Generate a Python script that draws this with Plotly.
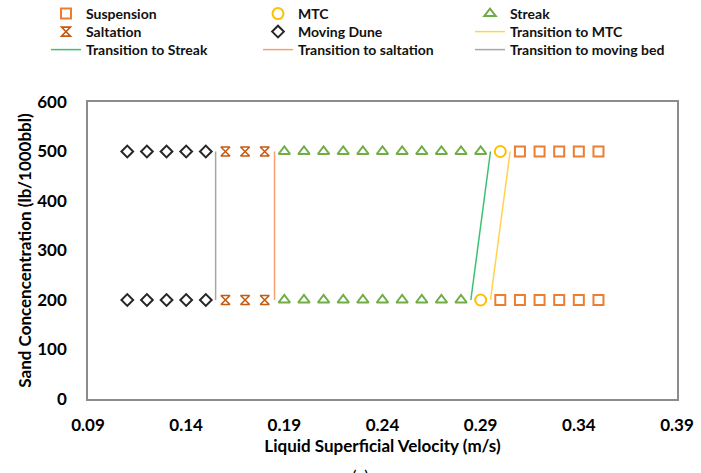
import plotly.graph_objects as go

# ---- data ----
suspension_x = [0.31, 0.32, 0.33, 0.34, 0.35, 0.30, 0.31, 0.32, 0.33, 0.34, 0.35]
suspension_y = [500, 500, 500, 500, 500, 200, 200, 200, 200, 200, 200]

mtc_x = [0.30, 0.29]
mtc_y = [500, 200]

streak_x = [0.19, 0.20, 0.21, 0.22, 0.23, 0.24, 0.25, 0.26, 0.27, 0.28, 0.29,
            0.19, 0.20, 0.21, 0.22, 0.23, 0.24, 0.25, 0.26, 0.27, 0.28]
streak_y = [500] * 11 + [200] * 10

saltation_x = [0.16, 0.17, 0.18, 0.16, 0.17, 0.18]
saltation_y = [500, 500, 500, 200, 200, 200]

dune_x = [0.11, 0.12, 0.13, 0.14, 0.15, 0.11, 0.12, 0.13, 0.14, 0.15]
dune_y = [500, 500, 500, 500, 500, 200, 200, 200, 200, 200]

trans_mtc_x = [0.295, 0.305]
trans_streak_x = [0.285, 0.295]
trans_saltation_x = [0.185, 0.185]
trans_moving_x = [0.155, 0.155]
trans_y = [200, 500]

x_ticks = [0.09, 0.14, 0.19, 0.24, 0.29, 0.34, 0.39]
y_ticks = [0, 100, 200, 300, 400, 500, 600]

FONT = "Lato"
W, H = 701, 473
L, R, T, B = 88, 24, 102, 74
PH = H - T - B  # plot height in px
PW = W - L - R

fig = go.Figure()

fig.add_trace(go.Scatter(x=suspension_x, y=suspension_y, mode="markers", name="Suspension",
                         legend="legend",
                         marker=dict(symbol="square-open", size=10, color="#ED7D31",
                                     line=dict(width=2, color="#ED7D31"))))
fig.add_trace(go.Scatter(x=mtc_x, y=mtc_y, mode="markers", name="MTC", legend="legend",
                         marker=dict(symbol="circle-open", size=11, color="#FFC000",
                                     line=dict(width=2, color="#FFC000"))))
fig.add_trace(go.Scatter(x=streak_x, y=streak_y, mode="markers", name="Streak", legend="legend",
                         marker=dict(symbol="triangle-up-open", size=10, color="#70AD47",
                                     line=dict(width=2, color="#70AD47"))))
fig.add_trace(go.Scatter(x=saltation_x, y=saltation_y, mode="markers", name="Saltation",
                         legend="legend2",
                         marker=dict(symbol="hourglass-open", size=9, color="#C55A11",
                                     line=dict(width=1.6, color="#C55A11"))))
fig.add_trace(go.Scatter(x=dune_x, y=dune_y, mode="markers", name="Moving Dune",
                         legend="legend2",
                         marker=dict(symbol="diamond-open", size=9, color="#262626",
                                     line=dict(width=2, color="#262626"))))
fig.add_trace(go.Scatter(x=trans_mtc_x, y=trans_y, mode="lines", name="Transition to MTC",
                         legend="legend2", line=dict(color="#FFD34D", width=1.5)))
fig.add_trace(go.Scatter(x=trans_streak_x, y=trans_y, mode="lines", name="Transition to Streak",
                         legend="legend3", line=dict(color="#3CC074", width=1.5)))
fig.add_trace(go.Scatter(x=trans_saltation_x, y=trans_y, mode="lines",
                         name="Transition to saltation",
                         legend="legend3", line=dict(color="#F4A070", width=1.5)))
fig.add_trace(go.Scatter(x=trans_moving_x, y=trans_y, mode="lines",
                         name="Transition to moving bed",
                         legend="legend3", line=dict(color="#A6A6A6", width=1.5)))


def legend_row(center_px):
    return dict(orientation="h", xref="paper", yref="paper",
                x=(46 - L) / PW, xanchor="left",
                y=(H - B - center_px) / PH, yanchor="middle",
                entrywidth=167, entrywidthmode="pixels",
                font=dict(family=FONT, size=14, color="#111111", weight="bold"),
                bgcolor="rgba(0,0,0,0)", traceorder="normal")


fig.update_layout(
    width=W, height=H,
    margin=dict(l=L, r=R, t=T, b=B, autoexpand=False),
    paper_bgcolor="white", plot_bgcolor="white",
    font=dict(family=FONT, color="#000000"),
    showlegend=True,
    legend=legend_row(14),
    legend2=legend_row(32),
    legend3=legend_row(50),
    xaxis=dict(range=[0.09, 0.39], tickvals=x_ticks, ticktext=[f"{v:.2f}" for v in x_ticks],
               showgrid=False, zeroline=False, showline=True, mirror=True,
               linecolor="#8C8C8C", linewidth=1.5, ticks="", ticklabelstandoff=10,
               tickfont=dict(family=FONT, size=17, weight="bold"),
               title=dict(text="Liquid Superficial Velocity (m/s)", standoff=3,
                          font=dict(family=FONT, size=17, weight="bold"))),
    yaxis=dict(range=[0, 600], tickvals=y_ticks,
               showgrid=False, zeroline=False, showline=True, mirror=True,
               linecolor="#8C8C8C", linewidth=1.5, ticks="", ticklabelstandoff=16,
               tickfont=dict(family=FONT, size=17, weight="bold"),
               title=dict(text="Sand Concencentration (lb/1000bbl)", standoff=1,
                          font=dict(family=FONT, size=17, weight="bold"))),
)

fig.add_annotation(text="(a)", xref="x domain", yref="y domain",
                   x=(360 - L) / PW, y=(H - B - 476) / PH, showarrow=False,
                   font=dict(family=FONT, size=17), xanchor="center", yanchor="middle")

fig.write_html("out.html",
               config={"displayModeBar": False},
               post_script="document.body.style.margin='0';document.body.style.overflow='hidden';")
